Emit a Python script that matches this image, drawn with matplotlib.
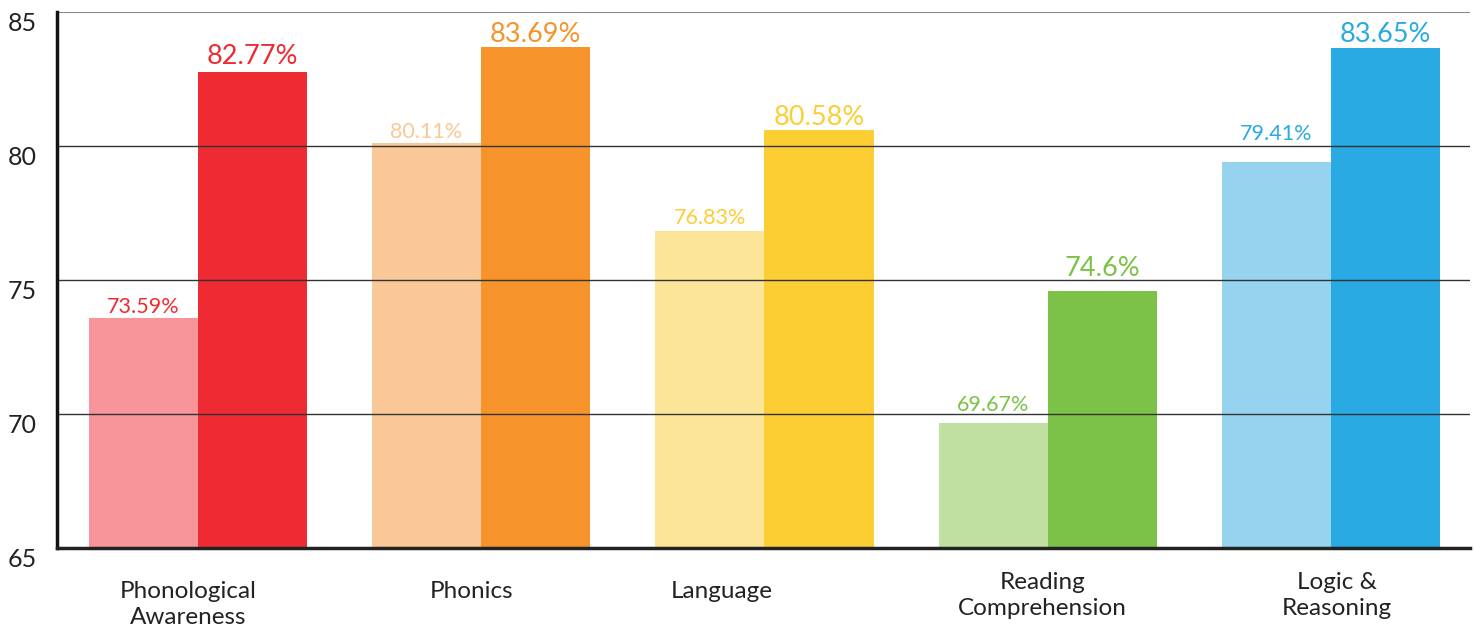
import matplotlib
matplotlib.use("Agg")
import matplotlib.pyplot as plt
import matplotlib.transforms as mtransforms
import numpy as np

categories = ["Phonological\nAwareness", "Phonics", "Language", "Reading\nComprehension", "Logic &\nReasoning"]
before = [73.59, 80.11, 76.83, 69.67, 79.41]
after = [82.77, 83.69, 80.58, 74.6, 83.65]
light_colors = ["#F7959A", "#F9C896", "#FCE498", "#C0E0A2", "#95D3EF"]
dark_colors = ["#EE2A33", "#F6932A", "#FDCD34", "#7CC248", "#29AAE2"]
light_label_colors = ["#EE2A33", "#F9C896", "#FDCD34", "#7CC248", "#29AAE2"]
yticks = [65, 70, 75, 80, 85]

# label offsets above bar tops (points)
light_off = [0.5, 0.5, 2, 5.5, 12.5]
dark_off = [1.7, 0, 0, 6.7, 1]

plt.rcParams['font.family'] = ['Lato', 'DejaVu Sans']

fig = plt.figure(figsize=(14.75, 6.28), dpi=100)
ax = fig.add_axes([0.0386, 0.1274, 0.958, 0.8536])

x = np.arange(len(categories))
w = 0.385
ax.bar(x - w/2, before, width=w, color=light_colors, zorder=2)
ax.bar(x + w/2, after, width=w, color=dark_colors, zorder=2)

for i in range(len(categories)):
    ax.annotate(f"{before[i]:g}%", (x[i] - w/2, before[i]), xytext=(0, light_off[i]), textcoords="offset points",
                ha="center", va="bottom", fontsize=15.5, color=light_label_colors[i], zorder=4)
    ax.annotate(f"{after[i]:g}%", (x[i] + w/2, after[i]), xytext=(0, dark_off[i]), textcoords="offset points",
                ha="center", va="bottom", fontsize=19.5, color=dark_colors[i], zorder=4)

ax.set_ylim(65, 85)
ax.set_xlim(-0.497, 4.49)

for yv in [70, 75, 80]:
    ax.axhline(yv, color="#333333", linewidth=1, zorder=3)
ax.axhline(85, color="#8a8a8a", linewidth=1.5, zorder=3)

ax.set_yticks(yticks)
ax.set_yticklabels([str(t) for t in yticks], fontsize=18, color="#222222")
for lab in ax.get_yticklabels():
    lab.set_verticalalignment("top")
ax.tick_params(axis="y", length=0, pad=14.5)
ax.set_xticks([])

for s in ["top", "right"]:
    ax.spines[s].set_visible(False)
ax.spines["left"].set_linewidth(2.5)
ax.spines["bottom"].set_linewidth(2.5)
ax.spines["left"].set_color("#111111")
ax.spines["bottom"].set_color("#222222")
ax.spines["left"].set_zorder(5)
ax.spines["bottom"].set_zorder(5)

trans = mtransforms.blended_transform_factory(ax.transData, ax.transAxes)
label_dx = [-0.035, -0.035, -0.15, -0.02, 0.02]
label_y = [-0.062, -0.062, -0.062, -0.045, -0.045]
for i, c in enumerate(categories):
    ax.text(x[i] + label_dx[i], label_y[i], c, transform=trans, ha="center", va="top",
            fontsize=17.5, color="#222222", linespacing=1.28)

fig.savefig("out.png", dpi=100)
